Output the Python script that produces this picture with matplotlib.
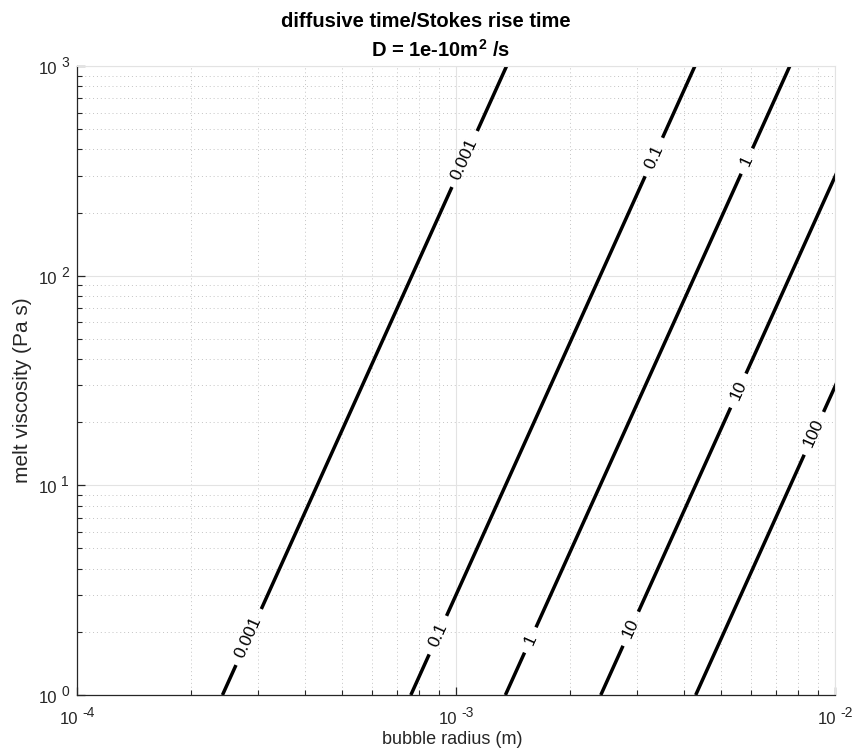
"""
Contours of diffusive time / Stokes rise time over bubble radius and melt viscosity.
"""

import matplotlib
matplotlib.use('Agg')
import matplotlib.pyplot as plt
import numpy as np

plt.rcParams['font.family'] = ['Liberation Sans', 'DejaVu Sans']
plt.rcParams['mathtext.fontset'] = 'custom'
plt.rcParams['mathtext.rm'] = 'Liberation Sans'
plt.rcParams['mathtext.bf'] = 'Liberation Sans:bold'
plt.rcParams['mathtext.default'] = 'regular'

# contour levels and where each one crosses mu = 1 and mu = 1000 Pa s
levels = [0.001, 0.1, 1, 10, 100]
radius_mu1 = [2.42e-4, 7.60e-4, 1.35e-3, 2.41e-3, 4.29e-3]
radius_mu1000 = [1.36e-3, 4.27e-3, 7.60e-3, 1.355e-2, 2.41e-2]
visc_ends = [1.0, 1000.0]

# inline labels: which level, and the viscosity at the label centre
label_level = [0, 0, 1, 1, 2, 2, 3, 3, 4]
label_text = ['0.001', '0.001', '0.1', '0.1', '1', '1', '10', '10', '100']
label_visc = [1.89, 360.0, 1.93, 368.0, 1.83, 352.0, 2.07, 28.3, 17.7]

xticks = [1e-4, 1e-3, 1e-2]
yticks = [1e0, 1e1, 1e2, 1e3]
xlim = (1e-4, 1e-2)
ylim = (1e0, 1e3)

W, H = 858, 753
axis_color = '#262626'

fig = plt.figure(figsize=(W / 100, H / 100), dpi=100)
ax = fig.add_axes([77 / W, 58 / H, 758 / W, 629 / H])
ax.set_xscale('log')
ax.set_yscale('log')
ax.set_xlim(*xlim)
ax.set_ylim(*ylim)
ax.set_xticks(xticks)
ax.set_yticks(yticks)
ax.set_xticklabels([])
ax.set_yticklabels([])

# grid: light solid majors, dotted minors
ax.grid(True, which='major', color='#e3e3e3', linestyle='-', linewidth=0.8)
ax.grid(True, which='minor', color='#c4c4c4', linestyle=(0, (1, 3)), linewidth=0.7)
ax.set_axisbelow(True)

for side in ['top', 'right']:
    ax.spines[side].set_color('#e3e3e3')
    ax.spines[side].set_linewidth(0.8)
for side in ['left', 'bottom']:
    ax.spines[side].set_color(axis_color)
    ax.spines[side].set_linewidth(0.9)

ax.tick_params(which='both', direction='in', top=False, right=False, colors=axis_color)
ax.tick_params(which='major', length=6, width=0.9)
ax.tick_params(which='minor', length=3.5, width=0.8)

ax.set_xlabel('bubble radius (m)', fontsize=13, color=axis_color)
ax.xaxis.set_label_coords((452 - 77) / 758, (695 - 731) / 629)
ax.set_ylabel('melt viscosity (Pa s)', fontsize=15, color=axis_color)
ax.yaxis.set_label_coords((32 - 77) / 758, (695 - 390) / 629)

# two-line bold title
fig.text(425.5 / W, (H - 27) / H, 'diffusive time/Stokes rise time',
         fontsize=14.5, fontweight='bold', ha='center', va='baseline')
fig.text(440 / W, (H - 57) / H, 'D = 1e-10$\\mathbf{m^2}$ /s',
         fontsize=14.5, fontweight='bold', ha='center', va='baseline')

fig.canvas.draw()
renderer = fig.canvas.get_renderer()
to_disp = ax.transData
to_data = ax.transData.inverted()


def put_text(px, py, s, size, ha):
    # place text at display pixel coordinates
    return fig.text(px / W, py / H, s, fontsize=size, ha=ha, va='baseline',
                    color=axis_color)


def text_width(s, size):
    t = fig.text(0, 0, s, fontsize=size)
    w = t.get_window_extent(renderer).width
    t.remove()
    return w


base_size, exp_size, exp_gap, exp_raise = 12, 10, 4, 7

# decade tick labels drawn as "10" plus a raised exponent
for v in xticks:
    e = '%d' % int(round(np.log10(v)))
    cx = to_disp.transform((v, ylim[0]))[0]
    wb = text_width('10', base_size)
    we = text_width(e, exp_size)
    left = cx - (wb + exp_gap + we) / 2
    put_text(left, 29, '10', base_size, 'left')
    put_text(left + wb + exp_gap, 29 + exp_raise, e, exp_size, 'left')

for v in yticks:
    e = '%d' % int(round(np.log10(v)))
    cy = to_disp.transform((xlim[0], v))[1]
    we = text_width(e, exp_size)
    right = 69
    put_text(right, cy - 8 + exp_raise, e, exp_size, 'right')
    put_text(right - we - exp_gap, cy - 8, '10', base_size, 'right')

for i, lev in enumerate(levels):
    p0 = to_disp.transform((radius_mu1[i], visc_ends[0]))
    p1 = to_disp.transform((radius_mu1000[i], visc_ends[1]))
    seg = p1 - p0
    seg_len = np.hypot(*seg)
    unit = seg / seg_len
    angle = np.degrees(np.arctan2(unit[1], unit[0]))

    # gaps along the line where labels sit, in display pixels from p0
    gaps = []
    for j, lv in enumerate(label_level):
        if lv != i:
            continue
        frac = np.log10(label_visc[j]) / 3.0
        r_lab = 10 ** (np.log10(radius_mu1[i]) + frac *
                       (np.log10(radius_mu1000[i]) - np.log10(radius_mu1[i])))
        t = ax.text(r_lab, label_visc[j], label_text[j], fontsize=12.5,
                    ha='center', va='center', rotation=0,
                    rotation_mode='anchor', color='black')
        w = t.get_window_extent(renderer).width
        t.set_rotation(angle)
        c = to_disp.transform((r_lab, label_visc[j]))
        s = np.dot(c - p0, unit)
        half = w / 2 + 9
        gaps.append((s - half, s + half))

    gaps.sort()
    pieces = []
    start = 0.0
    for a, b in gaps:
        pieces.append((start, a))
        start = b
    pieces.append((start, seg_len))

    for a, b in pieces:
        q = np.array([p0 + a * unit, p0 + b * unit])
        qd = to_data.transform(q)
        ax.plot(qd[:, 0], qd[:, 1], color='black', linewidth=2.5,
                solid_capstyle='butt')

ax.set_xlim(*xlim)
ax.set_ylim(*ylim)

fig.savefig('out.png', dpi=100)
plt.close(fig)
